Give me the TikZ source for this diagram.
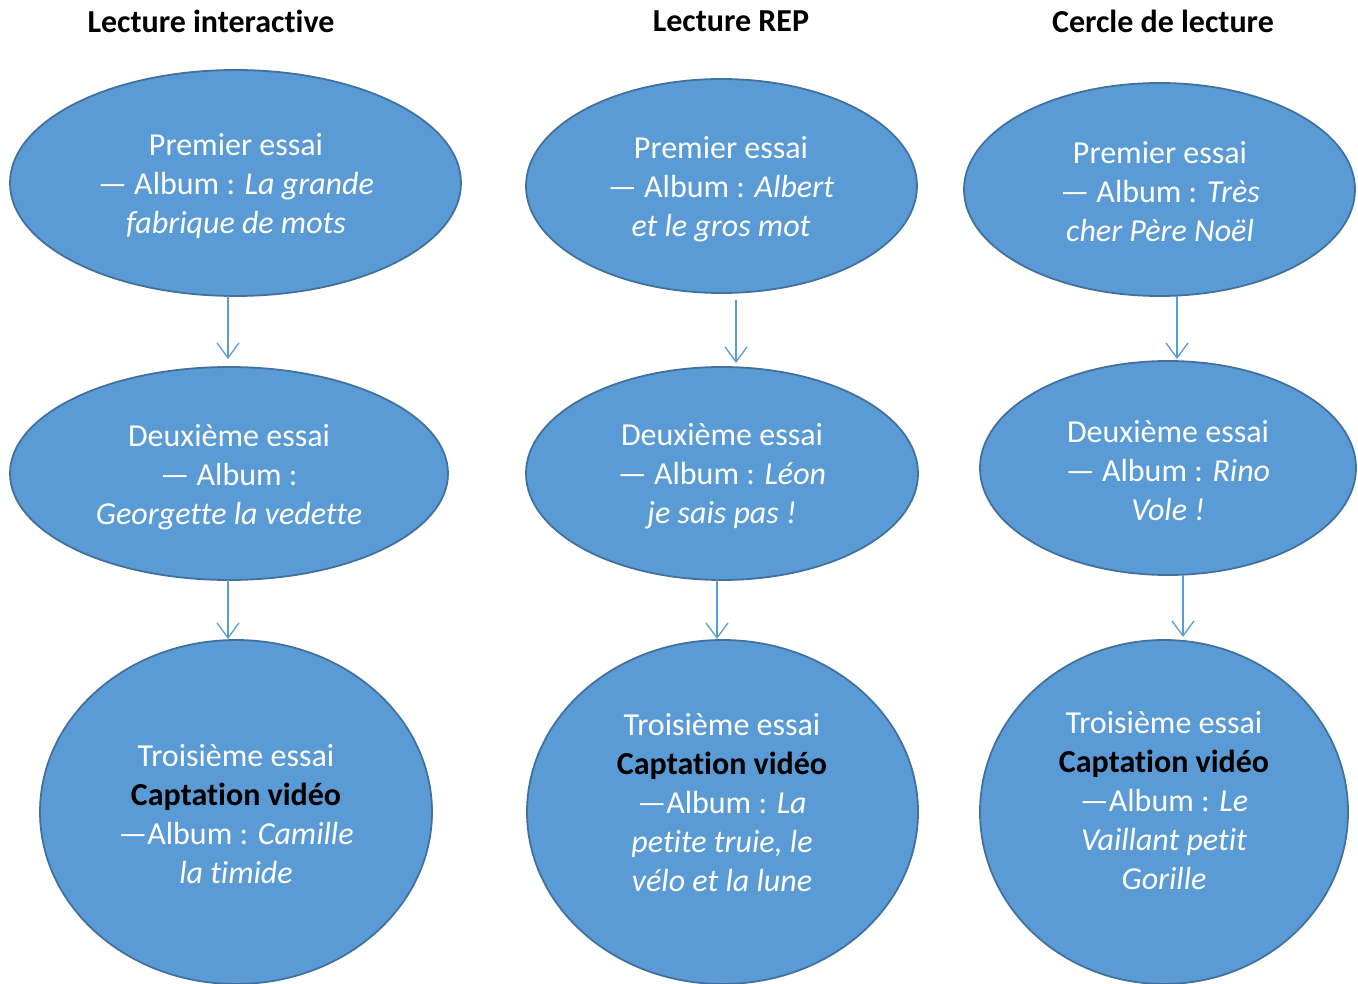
\documentclass[tikz,border=0pt]{standalone}
\usepackage{fontspec}
\setmainfont[Ligatures={NoCommon,NoRequired,NoContextual},Contextuals={NoAlternate}]{Carlito}
\usetikzlibrary{shapes.geometric,arrows.meta}
\definecolor{fillblue}{HTML}{5B9BD5}
\definecolor{edgeblue}{HTML}{41719C}
\definecolor{arrowblue}{HTML}{5B9BD5}
\tikzset{
  bubble/.style={ellipse, fill=fillblue, draw=edgeblue, line width=1.8pt, inner sep=0pt},
  txt/.style={text=white, align=center, font=\fontsize{32}{39}\selectfont, inner sep=0pt},
  title/.style={font=\fontsize{32}{38}\selectfont\bfseries, text=black, inner sep=0pt},
  flow/.style={draw=arrowblue, line width=1.3pt, -{Straight Barb[length=15pt,width=22pt,line width=1.3pt]}}
}
\newcommand{\bk}[1]{{\bfseries\color{black}#1}}
\begin{document}
\begin{tikzpicture}[x=1pt,y=-1pt]
\useasboundingbox (0,0) rectangle (1358,984);
% titles
\node[title] (h1) at (211,21) {Lecture interactive};
\node[title] (h2) at (731,21) {Lecture REP};
\node[title] (h3) at (1163,21) {Cercle de lecture};
% column 1
\node[bubble, minimum width=451pt, minimum height=226pt] (a1) at (235.5,183) {};
\node[bubble, minimum width=438pt, minimum height=213pt] (a2) at (229,473.5) {};
\node[bubble, minimum width=392pt, minimum height=344pt] (a3) at (236,812) {};
% column 2
\node[bubble, minimum width=391pt, minimum height=214pt] (b1) at (721.5,186) {};
\node[bubble, minimum width=392pt, minimum height=213pt] (b2) at (722,473.5) {};
\node[bubble, minimum width=391pt, minimum height=344pt] (b3) at (722.5,812) {};
% column 3
\node[bubble, minimum width=391pt, minimum height=213pt] (c1) at (1159.5,189.5) {};
\node[bubble, minimum width=376pt, minimum height=214pt] (c2) at (1168,468) {};
\node[bubble, minimum width=368pt, minimum height=344pt] (c3) at (1164,812) {};
% texts
\node[txt] (ta1) at (236,186) {Premier essai\\\textemdash{} Album : \textit{La grande}\\\textit{fabrique de mots}};
\node[txt] (ta2) at (229,477) {Deuxième essai\\\textemdash{} Album :\\\textit{Georgette la vedette}};
\node[txt] (ta3) at (236,814) {Troisième essai\\\bk{Captation vidéo}\\\textemdash Album : \textit{Camille}\\\textit{la timide}};
\node[txt] (tb1) at (721,189) {Premier essai\\\textemdash{} Album : \textit{Albert}\\\textit{et le gros mot}};
\node[txt] (tb2) at (722,476) {Deuxième essai\\\textemdash{} Album : \textit{Léon}\\\textit{je sais pas !}};
\node[txt] (tb3) at (722,802.5) {Troisième essai\\\bk{Captation vidéo}\\\textemdash Album : \textit{La}\\\textit{petite truie, le}\\\textit{vélo et la lune}};
\node[txt] (tc1) at (1160,192) {Premier essai\\\textemdash{} Album : \textit{Très}\\\textit{cher Père Noël}};
\node[txt] (tc2) at (1168,471) {Deuxième essai\\\textemdash{} Album : \textit{Rino}\\\textit{Vole !}};
\node[txt] (tc3) at (1164,800.5) {Troisième essai\\\bk{Captation vidéo}\\\textemdash Album : \textit{Le}\\\textit{Vaillant petit}\\\textit{Gorille}};
% arrows
\coordinate (p1s) at (228,296); \coordinate (p1e) at (228,359);
\coordinate (p2s) at (228,580); \coordinate (p2e) at (228,639);
\coordinate (q1s) at (736,300); \coordinate (q1e) at (736,363);
\coordinate (q2s) at (717,580); \coordinate (q2e) at (717,639);
\coordinate (r1s) at (1177,296); \coordinate (r1e) at (1177,359);
\coordinate (r2s) at (1183,575); \coordinate (r2e) at (1183,637);
\draw[flow] (p1s) -- (p1e);
\draw[flow] (p2s) -- (p2e);
\draw[flow] (q1s) -- (q1e);
\draw[flow] (q2s) -- (q2e);
\draw[flow] (r1s) -- (r1e);
\draw[flow] (r2s) -- (r2e);
\end{tikzpicture}
\end{document}
